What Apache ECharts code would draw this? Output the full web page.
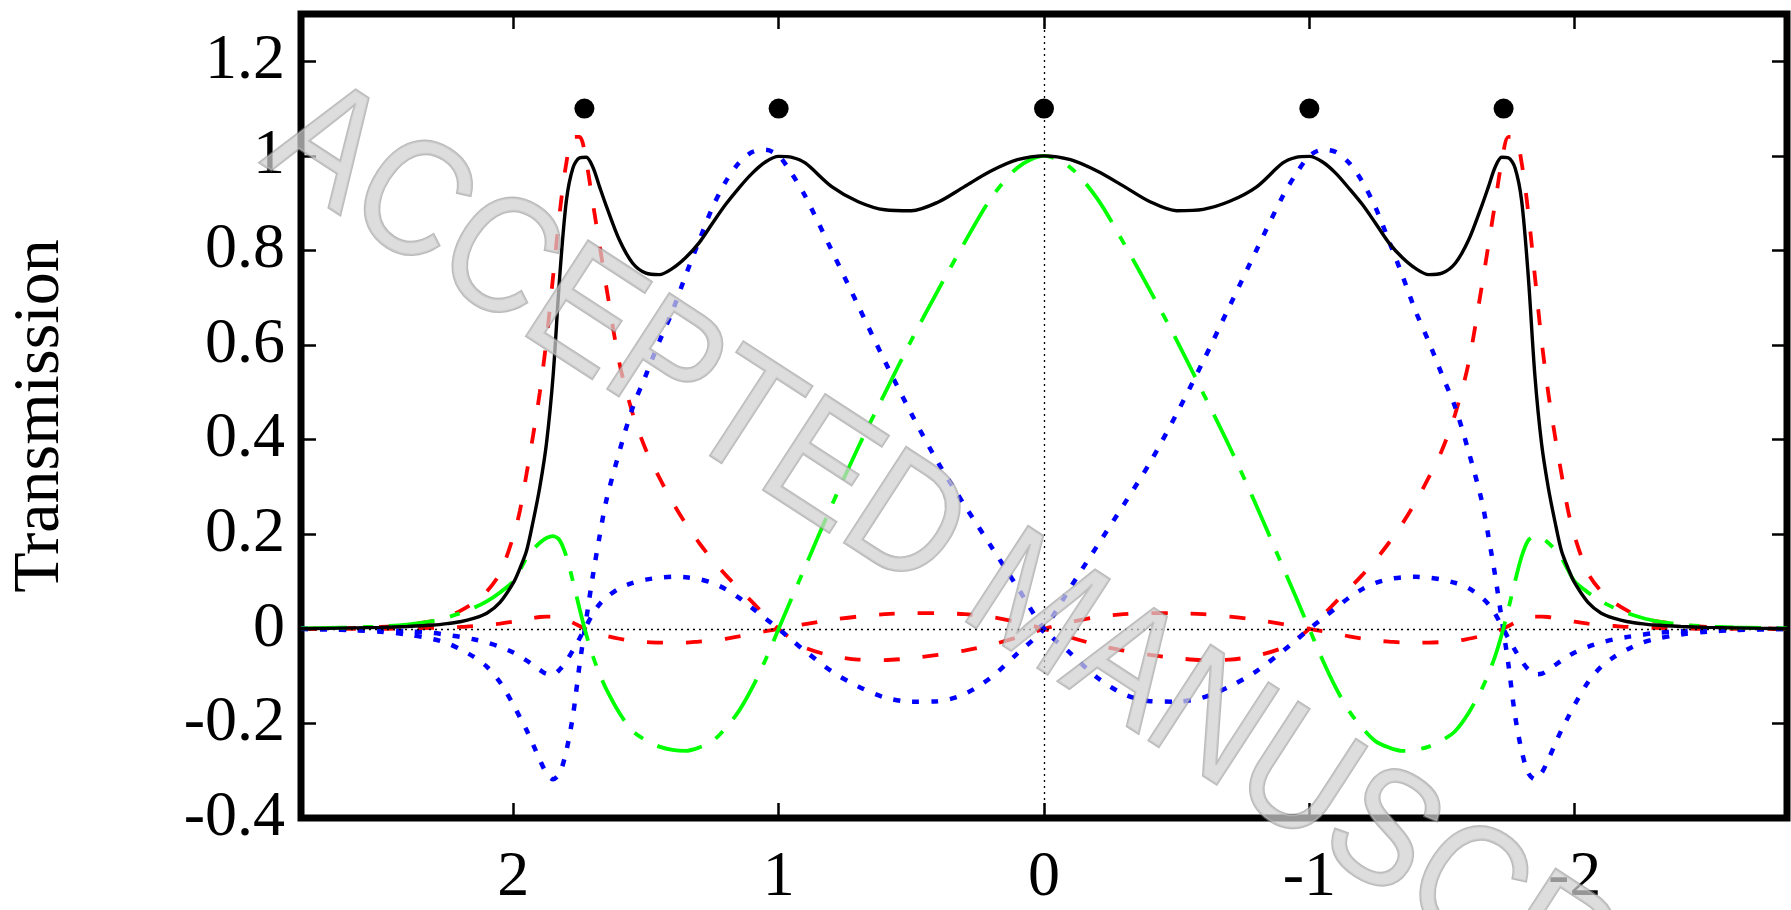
<!DOCTYPE html>
<html>
<head>
<meta charset="utf-8">
<script src="https://cdn.jsdelivr.net/npm/echarts@6/dist/echarts.min.js"></script>
<style>
html,body{margin:0;padding:0;background:#fff;}
#chart{width:1791px;height:910px;}
</style>
</head>
<body>
<div id="chart"></div>
<script>
// ---- data ----
const xs = [2.8, 2.7, 2.6, 2.5, 2.4, 2.3, 2.25, 2.2, 2.15, 2.1, 2.05, 2.0, 1.975, 1.95, 1.925, 1.9, 1.875, 1.85, 1.825, 1.8, 1.775, 1.75, 1.725, 1.7, 1.675, 1.65, 1.6, 1.55, 1.5, 1.45, 1.4, 1.35, 1.3, 1.25, 1.2, 1.15, 1.1, 1.05, 1.0, 0.95, 0.9, 0.8, 0.7, 0.6, 0.5, 0.4, 0.3, 0.2, 0.1, 0,
  -0.1, -0.2, -0.3, -0.4, -0.5, -0.6, -0.7, -0.8, -0.9, -0.95, -1.0, -1.05, -1.1, -1.15, -1.2, -1.25, -1.3, -1.35, -1.4, -1.45, -1.5, -1.55, -1.6, -1.65, -1.675, -1.7, -1.725, -1.75, -1.775, -1.8, -1.825, -1.85, -1.875, -1.9, -1.925, -1.95, -1.975, -2.0, -2.05, -2.1, -2.15, -2.2, -2.25, -2.3, -2.4, -2.5, -2.6, -2.7, -2.8];

const totalT = [0.000, 0.001, 0.002, 0.003, 0.005, 0.008, 0.011, 0.015, 0.022, 0.033, 0.056, 0.097, 0.128, 0.165, 0.228, 0.300, 0.392, 0.535, 0.745, 0.905, 0.975, 0.996, 0.997, 0.976, 0.935, 0.895, 0.822, 0.773, 0.752, 0.749, 0.762, 0.785, 0.816, 0.857, 0.897, 0.932, 0.963, 0.987, 0.999, 0.997, 0.985, 0.935, 0.903, 0.886, 0.884, 0.902, 0.935, 0.968, 0.992, 1.000,
  0.992, 0.968, 0.936, 0.903, 0.884, 0.887, 0.904, 0.934, 0.985, 0.997, 0.999, 0.987, 0.963, 0.931, 0.897, 0.857, 0.816, 0.785, 0.762, 0.749, 0.752, 0.773, 0.822, 0.895, 0.935, 0.976, 0.997, 0.996, 0.975, 0.905, 0.745, 0.535, 0.392, 0.300, 0.228, 0.165, 0.128, 0.097, 0.056, 0.033, 0.022, 0.015, 0.011, 0.008, 0.005, 0.003, 0.002, 0.001, 0.000];

const greenT = [0.001, 0.002, 0.003, 0.005, 0.009, 0.017, 0.024, 0.033, 0.044, 0.058, 0.077, 0.100, 0.124, 0.150, 0.168, 0.182, 0.192, 0.196, 0.187, 0.153, 0.100, 0.042, -0.012, -0.058, -0.095, -0.127, -0.178, -0.216, -0.236, -0.249, -0.256, -0.258, -0.251, -0.238, -0.210, -0.174, -0.125, -0.066, 0.000, 0.066, 0.131, 0.261, 0.384, 0.498, 0.610, 0.715, 0.816, 0.910, 0.975, 1.000,
  0.975, 0.910, 0.816, 0.715, 0.610, 0.498, 0.384, 0.261, 0.131, 0.066, 0.000, -0.066, -0.125, -0.174, -0.210, -0.238, -0.251, -0.258, -0.256, -0.249, -0.236, -0.216, -0.178, -0.127, -0.095, -0.058, -0.012, 0.042, 0.100, 0.153, 0.187, 0.196, 0.192, 0.182, 0.168, 0.150, 0.124, 0.100, 0.077, 0.058, 0.044, 0.033, 0.024, 0.017, 0.009, 0.005, 0.003, 0.002, 0.001];

const redA = [0.000, 0.001, 0.002, 0.004, 0.009, 0.017, 0.025, 0.038, 0.055, 0.079, 0.118, 0.195, 0.250, 0.328, 0.410, 0.500, 0.610, 0.745, 0.880, 0.985, 1.040, 1.040, 0.988, 0.900, 0.812, 0.725, 0.562, 0.455, 0.378, 0.320, 0.268, 0.222, 0.182, 0.146, 0.114, 0.085, 0.057, 0.028, 0.000, -0.022, -0.040, -0.057, -0.065, -0.066, -0.062, -0.055, -0.046, -0.034, -0.018, 0.000,
  0.014, 0.025, 0.031, 0.033, 0.033, 0.031, 0.026, 0.019, 0.010, 0.005, 0.000, -0.005, -0.010, -0.016, -0.021, -0.025, -0.027, -0.029, -0.029, -0.029, -0.028, -0.026, -0.021, -0.015, -0.011, -0.006, -0.001, 0.006, 0.013, 0.019, 0.023, 0.026, 0.026, 0.025, 0.023, 0.021, 0.018, 0.015, 0.011, 0.008, 0.006, 0.004, 0.003, 0.002, 0.001, 0.000, 0.000, 0.000, 0.000];

const redB = [0.000, 0.000, 0.000, 0.000, 0.001, 0.002, 0.003, 0.004, 0.006, 0.008, 0.011, 0.015, 0.018, 0.021, 0.023, 0.025, 0.026, 0.026, 0.023, 0.019, 0.013, 0.006, -0.001, -0.006, -0.011, -0.015, -0.021, -0.026, -0.028, -0.029, -0.029, -0.029, -0.027, -0.025, -0.021, -0.016, -0.010, -0.005, 0.000, 0.005, 0.010, 0.019, 0.026, 0.031, 0.033, 0.033, 0.031, 0.025, 0.014, 0.000,
  -0.018, -0.034, -0.046, -0.055, -0.062, -0.066, -0.065, -0.057, -0.040, -0.022, 0.000, 0.028, 0.057, 0.085, 0.114, 0.146, 0.182, 0.222, 0.268, 0.320, 0.378, 0.455, 0.562, 0.725, 0.812, 0.900, 0.988, 1.040, 1.040, 0.985, 0.880, 0.745, 0.610, 0.500, 0.410, 0.328, 0.250, 0.195, 0.118, 0.079, 0.055, 0.038, 0.025, 0.017, 0.009, 0.004, 0.002, 0.001, 0.000];

const blueA = [0.000, -0.001, -0.003, -0.006, -0.012, -0.022, -0.030, -0.043, -0.059, -0.080, -0.113, -0.160, -0.187, -0.214, -0.245, -0.277, -0.305, -0.318, -0.305, -0.258, -0.183, -0.075, 0.020, 0.113, 0.195, 0.270, 0.375, 0.468, 0.537, 0.607, 0.672, 0.748, 0.820, 0.890, 0.945, 0.985, 1.008, 1.013, 1.000, 0.962, 0.915, 0.800, 0.683, 0.566, 0.455, 0.352, 0.262, 0.175, 0.088, 0.000,
  -0.052, -0.103, -0.138, -0.153, -0.154, -0.145, -0.122, -0.090, -0.047, -0.024, 0.000, 0.022, 0.044, 0.066, 0.084, 0.097, 0.105, 0.109, 0.110, 0.108, 0.104, 0.097, 0.086, 0.066, 0.052, 0.032, 0.006, -0.020, -0.045, -0.068, -0.086, -0.096, -0.095, -0.087, -0.077, -0.067, -0.058, -0.050, -0.038, -0.029, -0.022, -0.017, -0.013, -0.009, -0.005, -0.003, -0.001, -0.001, 0.000];

const blueB = [0.000, -0.001, -0.001, -0.003, -0.005, -0.009, -0.013, -0.017, -0.022, -0.029, -0.038, -0.050, -0.058, -0.067, -0.077, -0.087, -0.095, -0.096, -0.086, -0.068, -0.045, -0.020, 0.006, 0.032, 0.052, 0.066, 0.086, 0.097, 0.104, 0.108, 0.110, 0.109, 0.105, 0.097, 0.084, 0.066, 0.044, 0.022, 0.000, -0.024, -0.047, -0.090, -0.122, -0.145, -0.154, -0.153, -0.138, -0.103, -0.052, 0.000,
  0.088, 0.175, 0.262, 0.352, 0.455, 0.566, 0.683, 0.800, 0.915, 0.962, 1.000, 1.013, 1.008, 0.985, 0.945, 0.890, 0.820, 0.748, 0.672, 0.607, 0.537, 0.468, 0.375, 0.270, 0.195, 0.113, 0.020, -0.075, -0.183, -0.258, -0.305, -0.318, -0.305, -0.277, -0.245, -0.214, -0.187, -0.160, -0.113, -0.080, -0.059, -0.043, -0.030, -0.022, -0.012, -0.006, -0.003, -0.001, 0.000];

const dotX = [1.732, 1, 0, -1, -1.732];
const dotY = [1.1, 1.1, 1.1, 1.1, 1.1];

const xTicks = [-2, -1, 0, 1, 2];
const yTicks = [-0.4, -0.2, 0, 0.2, 0.4, 0.6, 0.8, 1, 1.2];
const yTitle = 'Transmission';
const watermark = 'ACCEPTED MANUSCRIPT';

// ---- chart ----
const pairs = arr => xs.map((x, i) => [x, arr[i]]);
const FONT = 'Liberation Serif';
const tickStyle = { show: true, inside: true, length: 15, lineStyle: { color: '#000', width: 2.5 } };
const noLine = { show: false, onZero: false };

const chart = echarts.init(document.getElementById('chart'), null, { renderer: 'canvas' });

const lineSeries = (name, arr, color, width, type, z) => ({
  name, type: 'line', data: pairs(arr), showSymbol: false, symbol: 'none',
  smooth: 0.3, z: z, silent: true,
  lineStyle: { color, width, type, cap: 'butt' }
});

chart.setOption({
  animation: false,
  backgroundColor: '#fff',
  grid: { left: 298, right: 4, top: 14, bottom: 91, show: true, borderColor: '#000', borderWidth: 7, backgroundColor: 'transparent', containLabel: false },
  xAxis: [
    { type: 'value', min: -2.8, max: 2.8, inverse: true, position: 'bottom',
      axisLine: noLine, splitLine: { show: false },
      axisTick: Object.assign({ customValues: xTicks }, tickStyle),
      axisLabel: { customValues: xTicks, fontFamily: FONT, fontSize: 64, color: '#000', margin: 28 } },
    { type: 'value', min: -2.8, max: 2.8, inverse: true, position: 'top',
      axisLine: noLine, splitLine: { show: false },
      axisTick: Object.assign({ customValues: xTicks }, tickStyle),
      axisLabel: { show: false } }
  ],
  yAxis: [
    { type: 'value', min: -0.4, max: 1.3, position: 'left',
      axisLine: noLine, splitLine: { show: false },
      axisTick: Object.assign({ customValues: yTicks }, tickStyle),
      axisLabel: { customValues: yTicks, fontFamily: FONT, fontSize: 64, color: '#000', margin: 16 },
      name: yTitle, nameLocation: 'middle', nameGap: 260, nameRotate: 90,
      nameTextStyle: { fontFamily: FONT, fontSize: 66, color: '#000', verticalAlign: 'middle' } },
    { type: 'value', min: -0.4, max: 1.3, position: 'right',
      axisLine: noLine, splitLine: { show: false },
      axisTick: Object.assign({ customValues: yTicks }, tickStyle),
      axisLabel: { show: false } }
  ],
  series: [
    { type: 'line', data: [], z: 1, silent: true,
      markLine: { silent: true, symbol: 'none', label: { show: false },
        lineStyle: { color: '#000', width: 1.3, type: [2, 4] },
        data: [{ yAxis: 0 }, { xAxis: 0 }] } },
    lineSeries('redA', redA, '#ff0000', 3.8, [16, 23], 3),
    lineSeries('redB', redB, '#ff0000', 3.8, [16, 23], 3),
    lineSeries('blueA', blueA, '#0000ff', 4.5, [7, 12], 4),
    lineSeries('blueB', blueB, '#0000ff', 4.5, [7, 12], 4),
    lineSeries('green', greenT, '#00ff00', 3.8, [46, 16, 10, 16], 5),
    lineSeries('total', totalT, '#000000', 3.4, 'solid', 6),
    { type: 'scatter', data: dotX.map((x, i) => [x, dotY[i]]), symbolSize: 20,
      itemStyle: { color: '#000', opacity: 1 }, z: 7, silent: true }
  ],
  graphic: [
    { type: 'text', x: 1035, y: 612, rotation: -33 * Math.PI / 180, scaleX: 0.88, scaleY: 1, z: 100, silent: true,
      style: { text: watermark, font: '165px "Liberation Sans", Arial, sans-serif',
        fill: 'rgba(208,208,208,0.72)', stroke: 'rgba(140,140,140,0.6)', lineWidth: 2.5,
        align: 'center', verticalAlign: 'middle', textAlign: 'center', textVerticalAlign: 'middle' } }
  ]
});
</script>
</body>
</html>
